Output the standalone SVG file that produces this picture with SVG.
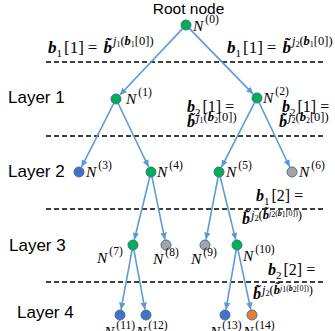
<svg xmlns="http://www.w3.org/2000/svg" width="335" height="331" viewBox="0 0 335 331">
<defs>
<style>
.lbl{font-family:"Liberation Sans","DejaVu Sans",sans-serif;font-size:17px;fill:#000}
.root{font-family:"Liberation Sans","DejaVu Sans",sans-serif;font-size:15.5px;fill:#000}
.n{font-family:"Liberation Serif","DejaVu Serif",serif;font-style:italic;font-size:15.5px;fill:#000}
.nsup{font-style:normal;font-size:11.5px}
.m{font-family:"Liberation Serif","DejaVu Serif",serif;font-size:17px;fill:#000}
.m2{font-family:"Liberation Serif","DejaVu Serif",serif;font-size:16px;fill:#000}
.bi{font-weight:bold;font-style:italic}
.i{font-style:italic}
.sub{font-size:11px}
.sup{font-size:12.5px}
.ss{font-size:8px}
.dash{stroke:#000;stroke-width:1.5;stroke-dasharray:5,3;fill:none}
.e{stroke:#5B9BD5;stroke-width:1.6;fill:none;marker-end:url(#ah)}
.g{fill:#00B050;stroke:#41719C;stroke-width:1}
.b{fill:#4472C4;stroke:#41719C;stroke-width:1}
.y{fill:#A5A5A5;stroke:#41719C;stroke-width:1}
.o{fill:#ED7D31;stroke:#41719C;stroke-width:1}
</style>
<marker id="ah" markerUnits="userSpaceOnUse" markerWidth="8" markerHeight="7" refX="7" refY="3.25" orient="auto">
<path d="M0,0 L7,3.25 L0,6.5 z" fill="#5B9BD5"/>
</marker>
</defs>

<g id="layers">
<text class="root" x="188.5" y="14" text-anchor="middle">Root node</text>
<text class="lbl" x="8" y="103">Layer 1</text>
<text class="lbl" x="8" y="177">Layer 2</text>
<text class="lbl" x="9" y="251">Layer 3</text>
<text class="lbl" x="17" y="318">Layer 4</text>
</g>

<g id="dashed-lines">
<line class="dash" x1="46" y1="62" x2="325" y2="62"/>
<line class="dash" x1="46" y1="136" x2="325" y2="136"/>
<line class="dash" x1="46" y1="209" x2="325" y2="209"/>
<line class="dash" x1="46" y1="282" x2="325" y2="282"/>
</g>

<g id="connectors">
<line class="e" x1="182.6" y1="28.6" x2="119.8" y2="95"/>
<line class="e" x1="189.5" y1="28.6" x2="253.2" y2="94.1"/>
<line class="e" x1="113.7" y1="103.5" x2="81.5" y2="167.1"/>
<line class="e" x1="118.2" y1="103.5" x2="148.6" y2="167"/>
<line class="e" x1="254.7" y1="102.4" x2="221.5" y2="167.1"/>
<line class="e" x1="259.1" y1="102.5" x2="289.7" y2="167"/>
<line class="e" x1="149.8" y1="176.9" x2="134.3" y2="239.7"/>
<line class="e" x1="152" y1="176.9" x2="164.9" y2="239.6"/>
<line class="e" x1="218.1" y1="176.9" x2="206" y2="239.6"/>
<line class="e" x1="220.2" y1="176.9" x2="235.7" y2="239.7"/>
<line class="e" x1="132.1" y1="249.9" x2="121" y2="309.6"/>
<line class="e" x1="133.9" y1="249.9" x2="145" y2="309.6"/>
<line class="e" x1="236.2" y1="249.9" x2="225.9" y2="309.6"/>
<line class="e" x1="238" y1="249.9" x2="250.8" y2="309.6"/>
</g>

<g id="N0"><circle class="g" cx="186" cy="25" r="5"/><text class="n" x="193" y="31">N<tspan class="nsup" dx="2" dy="-8">(0)</tspan></text></g>
<g id="N1"><circle class="g" cx="116" cy="99" r="5"/><text class="n" x="126" y="104">N<tspan class="nsup" dx="2" dy="-8">(1)</tspan></text></g>
<g id="N2"><circle class="g" cx="257" cy="98" r="5"/><text class="n" x="263" y="103">N<tspan class="nsup" dx="2" dy="-8">(2)</tspan></text></g>
<g id="N3"><circle class="b" cx="79" cy="172" r="5"/><text class="n" x="86" y="177">N<tspan class="nsup" dx="2" dy="-8">(3)</tspan></text></g>
<g id="N4"><circle class="g" cx="151" cy="172" r="5"/><text class="n" x="157" y="177">N<tspan class="nsup" dx="2" dy="-8">(4)</tspan></text></g>
<g id="N5"><circle class="g" cx="219" cy="172" r="5"/><text class="n" x="226" y="177">N<tspan class="nsup" dx="2" dy="-8">(5)</tspan></text></g>
<g id="N6"><circle class="y" cx="292" cy="172" r="5"/><text class="n" x="299" y="177">N<tspan class="nsup" dx="2" dy="-8">(6)</tspan></text></g>
<g id="N7"><circle class="g" cx="133" cy="245" r="5"/><text class="n" x="97" y="263">N<tspan class="nsup" dx="2" dy="-8">(7)</tspan></text></g>
<g id="N8"><circle class="y" cx="166" cy="245" r="5"/><text class="n" x="153" y="264">N<tspan class="nsup" dx="2" dy="-8">(8)</tspan></text></g>
<g id="N9"><circle class="y" cx="205" cy="245" r="5"/><text class="n" x="191" y="264">N<tspan class="nsup" dx="2" dy="-8">(9)</tspan></text></g>
<g id="N10"><circle class="g" cx="237" cy="245" r="5"/><text class="n" x="243" y="261">N<tspan class="nsup" dx="2" dy="-8">(10)</tspan></text></g>
<g id="N11"><circle class="b" cx="120" cy="315" r="5"/><text class="n" x="104" y="337">N<tspan class="nsup" dx="2" dy="-8">(11)</tspan></text></g>
<g id="N12"><circle class="b" cx="146" cy="315" r="5"/><text class="n" x="136" y="337">N<tspan class="nsup" dx="2" dy="-8">(12)</tspan></text></g>
<g id="N13"><circle class="b" cx="225" cy="315" r="5"/><text class="n" x="210" y="337">N<tspan class="nsup" dx="2" dy="-8">(13)</tspan></text></g>
<g id="N14"><circle class="o" cx="252" cy="315" r="5"/><text class="n" x="243" y="337">N<tspan class="nsup" dx="2" dy="-8">(14)</tspan></text></g>

<g id="labels">
<text class="m" x="48" y="53"><tspan class="bi">b</tspan><tspan class="sub" dy="4">1</tspan><tspan dy="-4" dx="2">[1]</tspan><tspan dx="4">=</tspan><tspan class="bi" dx="6">b&#771;</tspan><tspan class="sup" dy="-8" dx="1"><tspan class="i">j</tspan><tspan class="ss" dy="2">1</tspan><tspan dy="-2">(</tspan><tspan class="bi">b</tspan><tspan class="ss" dy="2">1</tspan><tspan dy="-2">[0])</tspan></tspan></text>
<text class="m" x="227" y="53"><tspan class="bi">b</tspan><tspan class="sub" dy="4">1</tspan><tspan dy="-4" dx="2">[1]</tspan><tspan dx="4">=</tspan><tspan class="bi" dx="6">b&#771;</tspan><tspan class="sup" dy="-8" dx="1"><tspan class="i">j</tspan><tspan class="ss" dy="2">2</tspan><tspan dy="-2">(</tspan><tspan class="bi">b</tspan><tspan class="ss" dy="2">1</tspan><tspan dy="-2">[0])</tspan></tspan></text>

<text class="m2" x="187" y="112"><tspan class="bi">b</tspan><tspan class="sub" dy="4">2</tspan><tspan dy="-4" dx="2">[1]</tspan><tspan dx="4">=</tspan></text>
<text class="m2" x="187" y="127"><tspan class="bi">b&#771;</tspan><tspan class="sup" dy="-6" dx="1"><tspan class="i">j</tspan><tspan class="ss" dy="2">1</tspan><tspan dy="-2">(</tspan><tspan class="bi">b</tspan><tspan class="ss" dy="2">2</tspan><tspan dy="-2">[0])</tspan></tspan></text>
<text class="m2" x="282" y="112"><tspan class="bi">b</tspan><tspan class="sub" dy="4">2</tspan><tspan dy="-4" dx="2">[1]</tspan><tspan dx="4">=</tspan></text>
<text class="m2" x="279" y="127"><tspan class="bi">b&#771;</tspan><tspan class="sup" dy="-6" dx="1"><tspan class="i">j</tspan><tspan class="ss" dy="2">2</tspan><tspan dy="-2">(</tspan><tspan class="bi">b</tspan><tspan class="ss" dy="2">2</tspan><tspan dy="-2">[0])</tspan></tspan></text>

<text class="m2" x="256" y="201"><tspan class="bi">b</tspan><tspan class="sub" dy="4">1</tspan><tspan dy="-4" dx="2">[2]</tspan><tspan dx="4">=</tspan></text>
<text class="m2" x="242" y="224"><tspan class="bi">b&#771;</tspan><tspan class="sup" dy="-5" dx="1"><tspan class="i">j</tspan><tspan class="ss" dy="2">2</tspan><tspan dy="-2">(</tspan><tspan class="bi">b&#771;</tspan><tspan class="ss" dy="-3"><tspan class="i">j</tspan><tspan dy="1">2</tspan><tspan dy="-1">(</tspan><tspan class="bi">b</tspan><tspan dy="1">1</tspan><tspan dy="-1">[0])</tspan></tspan><tspan dy="3">)</tspan></tspan></text>

<text class="m2" x="268" y="275"><tspan class="bi">b</tspan><tspan class="sub" dy="4">2</tspan><tspan dy="-4" dx="2">[2]</tspan><tspan dx="4">=</tspan></text>
<text class="m2" x="253" y="299"><tspan class="bi">b&#771;</tspan><tspan class="sup" dy="-5" dx="1"><tspan class="i">j</tspan><tspan class="ss" dy="2">2</tspan><tspan dy="-2">(</tspan><tspan class="bi">b&#771;</tspan><tspan class="ss" dy="-3"><tspan class="i">j</tspan><tspan dy="1">1</tspan><tspan dy="-1">(</tspan><tspan class="bi">b</tspan><tspan dy="1">2</tspan><tspan dy="-1">[0])</tspan></tspan><tspan dy="3">)</tspan></tspan></text>
</g>
</svg>
